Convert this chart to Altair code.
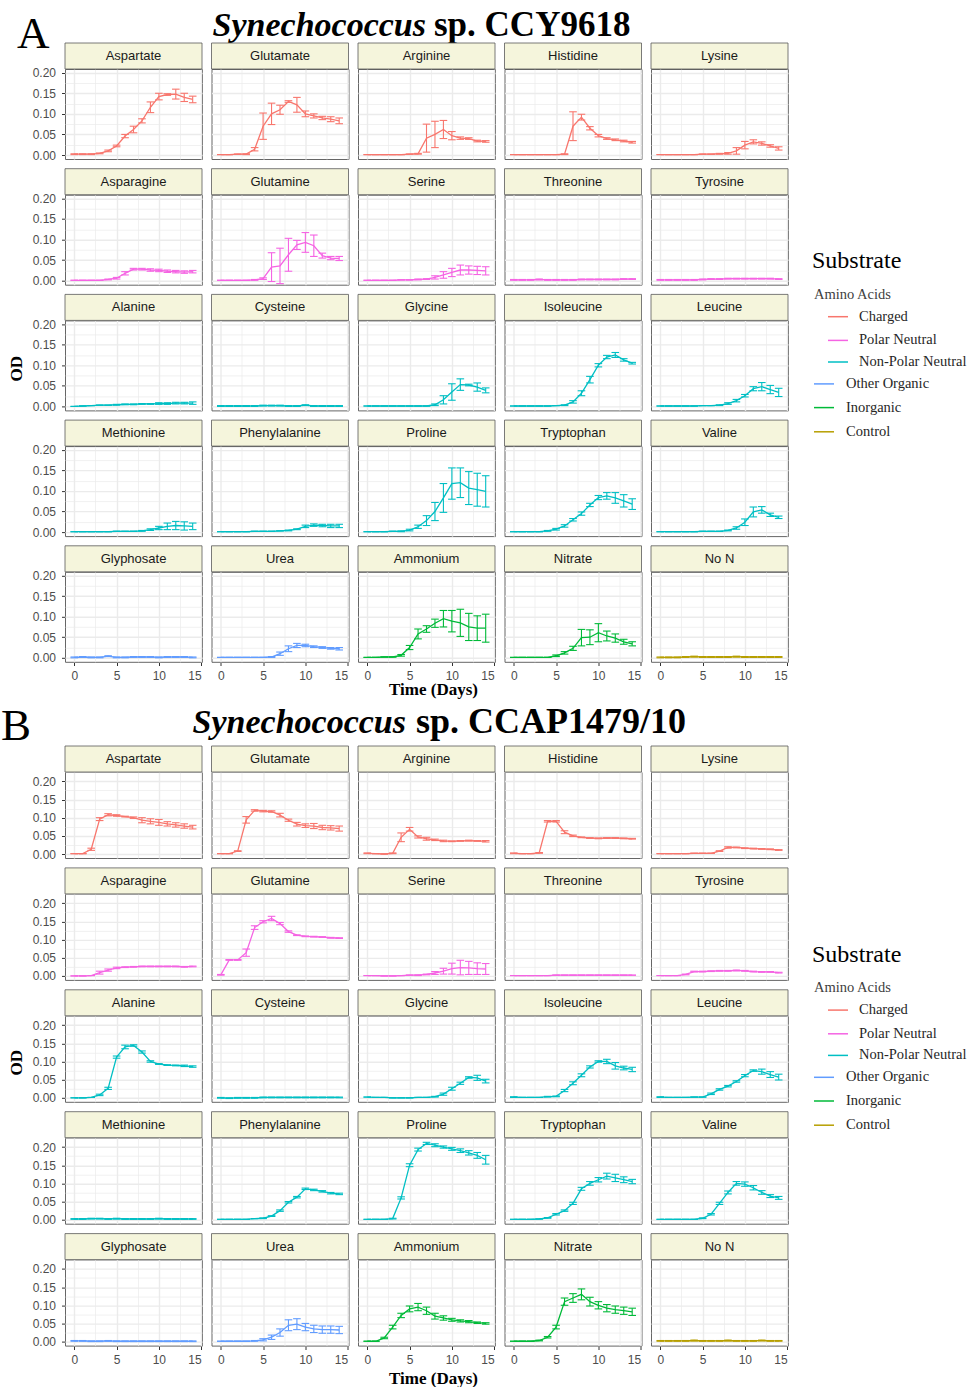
import altair as alt
import pandas as pd

DAYS = list(range(15))

SUBSTRATES = ["Aspartate", "Glutamate", "Arginine", "Histidine", "Lysine",
              "Asparagine", "Glutamine", "Serine", "Threonine", "Tyrosine",
              "Alanine", "Cysteine", "Glycine", "Isoleucine", "Leucine",
              "Methionine", "Phenylalanine", "Proline", "Tryptophan", "Valine",
              "Glyphosate", "Urea", "Ammonium", "Nitrate", "No N"]
GROUPS = (["Charged"] * 5 + ["Polar Neutral"] * 5 + ["Non-Polar Neutral"] * 10
          + ["Other Organic"] * 2 + ["Inorganic"] * 2 + ["Control"])
GROUP_NAMES = ["Charged", "Polar Neutral", "Non-Polar Neutral", "Other Organic", "Inorganic", "Control"]
GROUP_COLORS = ["#F8766D", "#F564E3", "#00BFC4", "#619CFF", "#00BA38", "#B79F00"]
GROUP_INDENT = [True, True, True, False, False, False]

# ---------------- Synechococcus sp. CCY9618 ----------------
A_MEAN = {
    "Aspartate":     [0.002, 0.002, 0.002, 0.004, 0.010, 0.022, 0.046, 0.062, 0.083, 0.116, 0.142, 0.147, 0.148, 0.140, 0.135],
    "Glutamate":     [0.001, 0.001, 0.002, 0.002, 0.014, 0.070, 0.100, 0.110, 0.130, 0.122, 0.100, 0.095, 0.090, 0.087, 0.083],
    "Arginine":      [0.001, 0.001, 0.001, 0.001, 0.001, 0.002, 0.003, 0.041, 0.050, 0.062, 0.047, 0.041, 0.040, 0.034, 0.033],
    "Histidine":     [0.001, 0.001, 0.001, 0.001, 0.001, 0.001, 0.002, 0.070, 0.092, 0.065, 0.047, 0.040, 0.037, 0.034, 0.031],
    "Lysine":        [0.001, 0.001, 0.001, 0.001, 0.001, 0.002, 0.002, 0.003, 0.004, 0.010, 0.024, 0.032, 0.028, 0.022, 0.016],
    "Asparagine":    [0.001, 0.001, 0.001, 0.001, 0.003, 0.006, 0.018, 0.028, 0.028, 0.026, 0.025, 0.023, 0.022, 0.021, 0.022],
    "Glutamine":     [0.001, 0.001, 0.001, 0.001, 0.002, 0.005, 0.033, 0.036, 0.063, 0.087, 0.093, 0.085, 0.061, 0.055, 0.054],
    "Serine":        [0.001, 0.001, 0.001, 0.001, 0.002, 0.002, 0.003, 0.004, 0.008, 0.014, 0.020, 0.026, 0.026, 0.025, 0.024],
    "Threonine":     [0.002, 0.002, 0.002, 0.003, 0.002, 0.002, 0.002, 0.002, 0.003, 0.003, 0.003, 0.003, 0.003, 0.004, 0.004],
    "Tyrosine":      [0.002, 0.002, 0.002, 0.002, 0.002, 0.003, 0.004, 0.004, 0.005, 0.005, 0.005, 0.005, 0.005, 0.005, 0.004],
    "Alanine":       [0.000, 0.001, 0.002, 0.003, 0.003, 0.004, 0.005, 0.005, 0.006, 0.006, 0.007, 0.007, 0.008, 0.008, 0.008],
    "Cysteine":      [0.001, 0.001, 0.001, 0.001, 0.001, 0.002, 0.002, 0.002, 0.001, 0.001, 0.003, 0.001, 0.001, 0.001, 0.001],
    "Glycine":       [0.001, 0.001, 0.001, 0.001, 0.001, 0.001, 0.001, 0.001, 0.004, 0.016, 0.035, 0.053, 0.052, 0.047, 0.039],
    "Isoleucine":    [0.001, 0.001, 0.001, 0.001, 0.001, 0.002, 0.003, 0.011, 0.032, 0.065, 0.100, 0.120, 0.125, 0.113, 0.105],
    "Leucine":       [0.001, 0.001, 0.001, 0.001, 0.001, 0.002, 0.002, 0.003, 0.007, 0.014, 0.026, 0.043, 0.048, 0.041, 0.034],
    "Methionine":    [0.001, 0.001, 0.001, 0.001, 0.001, 0.002, 0.002, 0.002, 0.003, 0.006, 0.010, 0.014, 0.016, 0.015, 0.014],
    "Phenylalanine": [0.001, 0.001, 0.001, 0.001, 0.002, 0.002, 0.002, 0.003, 0.004, 0.007, 0.014, 0.017, 0.016, 0.015, 0.015],
    "Proline":       [0.001, 0.001, 0.001, 0.002, 0.002, 0.005, 0.013, 0.028, 0.050, 0.083, 0.118, 0.120, 0.107, 0.103, 0.099],
    "Tryptophan":    [0.001, 0.001, 0.001, 0.001, 0.003, 0.007, 0.015, 0.030, 0.045, 0.066, 0.084, 0.088, 0.083, 0.076, 0.068],
    "Valine":        [0.001, 0.001, 0.001, 0.001, 0.001, 0.002, 0.002, 0.002, 0.004, 0.010, 0.024, 0.049, 0.054, 0.042, 0.036],
    "Glyphosate":    [0.001, 0.002, 0.001, 0.001, 0.004, 0.001, 0.001, 0.002, 0.002, 0.002, 0.001, 0.002, 0.002, 0.002, 0.001],
    "Urea":          [0.001, 0.001, 0.001, 0.001, 0.001, 0.001, 0.002, 0.010, 0.022, 0.030, 0.030, 0.027, 0.025, 0.023, 0.022],
    "Ammonium":      [0.001, 0.001, 0.002, 0.002, 0.006, 0.025, 0.058, 0.070, 0.084, 0.095, 0.089, 0.085, 0.075, 0.072, 0.072],
    "Nitrate":       [0.001, 0.001, 0.001, 0.001, 0.001, 0.005, 0.012, 0.023, 0.049, 0.050, 0.061, 0.053, 0.048, 0.039, 0.034],
    "No N":          [0.001, 0.001, 0.001, 0.002, 0.003, 0.002, 0.002, 0.002, 0.002, 0.003, 0.002, 0.002, 0.002, 0.002, 0.002],
}
A_ERR = {
    "Aspartate":     [0.001, 0.001, 0.001, 0.001, 0.002, 0.002, 0.004, 0.008, 0.005, 0.013, 0.008, 0.002, 0.012, 0.010, 0.008],
    "Glutamate":     [0.000, 0.000, 0.000, 0.001, 0.004, 0.032, 0.026, 0.011, 0.002, 0.018, 0.007, 0.005, 0.004, 0.006, 0.007],
    "Arginine":      [0.000, 0.000, 0.000, 0.000, 0.000, 0.000, 0.001, 0.034, 0.032, 0.022, 0.010, 0.003, 0.002, 0.002, 0.002],
    "Histidine":     [0.000, 0.000, 0.000, 0.000, 0.000, 0.000, 0.001, 0.035, 0.007, 0.004, 0.003, 0.002, 0.002, 0.002, 0.002],
    "Lysine":        [0.000, 0.000, 0.000, 0.000, 0.000, 0.000, 0.000, 0.001, 0.002, 0.008, 0.009, 0.005, 0.004, 0.003, 0.004],
    "Asparagine":    [0.000, 0.000, 0.000, 0.000, 0.001, 0.002, 0.004, 0.002, 0.002, 0.003, 0.003, 0.003, 0.003, 0.003, 0.003],
    "Glutamine":     [0.000, 0.000, 0.000, 0.000, 0.001, 0.002, 0.035, 0.043, 0.040, 0.011, 0.024, 0.026, 0.006, 0.004, 0.005],
    "Serine":        [0.000, 0.000, 0.000, 0.000, 0.000, 0.000, 0.001, 0.001, 0.004, 0.008, 0.010, 0.012, 0.010, 0.010, 0.010],
    "Threonine":     [0.001, 0.001, 0.001, 0.001, 0.001, 0.001, 0.001, 0.001, 0.001, 0.001, 0.001, 0.001, 0.001, 0.001, 0.001],
    "Tyrosine":      [0.001, 0.001, 0.001, 0.001, 0.001, 0.001, 0.001, 0.001, 0.001, 0.001, 0.001, 0.001, 0.001, 0.001, 0.001],
    "Alanine":       [0.000, 0.000, 0.000, 0.000, 0.000, 0.001, 0.001, 0.001, 0.001, 0.001, 0.002, 0.002, 0.002, 0.002, 0.003],
    "Cysteine":      [0.001, 0.001, 0.001, 0.001, 0.001, 0.001, 0.001, 0.001, 0.001, 0.001, 0.001, 0.001, 0.001, 0.001, 0.001],
    "Glycine":       [0.000, 0.000, 0.000, 0.000, 0.000, 0.000, 0.000, 0.000, 0.002, 0.010, 0.020, 0.014, 0.002, 0.010, 0.006],
    "Isoleucine":    [0.000, 0.000, 0.000, 0.000, 0.000, 0.000, 0.001, 0.003, 0.006, 0.008, 0.004, 0.004, 0.006, 0.003, 0.002],
    "Leucine":       [0.000, 0.000, 0.000, 0.000, 0.000, 0.000, 0.000, 0.001, 0.002, 0.003, 0.003, 0.005, 0.010, 0.010, 0.010],
    "Methionine":    [0.000, 0.000, 0.000, 0.000, 0.000, 0.000, 0.000, 0.000, 0.001, 0.002, 0.004, 0.008, 0.010, 0.010, 0.008],
    "Phenylalanine": [0.000, 0.000, 0.000, 0.000, 0.000, 0.000, 0.000, 0.000, 0.001, 0.001, 0.003, 0.003, 0.003, 0.004, 0.004],
    "Proline":       [0.000, 0.000, 0.000, 0.000, 0.001, 0.002, 0.004, 0.012, 0.022, 0.035, 0.038, 0.036, 0.040, 0.040, 0.038],
    "Tryptophan":    [0.000, 0.000, 0.000, 0.000, 0.001, 0.002, 0.003, 0.003, 0.004, 0.004, 0.005, 0.008, 0.013, 0.015, 0.013],
    "Valine":        [0.000, 0.000, 0.000, 0.000, 0.000, 0.000, 0.000, 0.000, 0.001, 0.003, 0.008, 0.012, 0.008, 0.004, 0.003],
    "Glyphosate":    [0.001, 0.001, 0.001, 0.001, 0.001, 0.001, 0.001, 0.001, 0.001, 0.001, 0.001, 0.001, 0.001, 0.001, 0.001],
    "Urea":          [0.000, 0.000, 0.000, 0.000, 0.000, 0.000, 0.001, 0.004, 0.007, 0.005, 0.003, 0.002, 0.002, 0.002, 0.003],
    "Ammonium":      [0.000, 0.000, 0.000, 0.000, 0.002, 0.005, 0.012, 0.008, 0.010, 0.020, 0.026, 0.033, 0.033, 0.030, 0.034],
    "Nitrate":       [0.000, 0.000, 0.000, 0.000, 0.000, 0.002, 0.003, 0.005, 0.020, 0.018, 0.022, 0.012, 0.010, 0.006, 0.005],
    "No N":          [0.001, 0.001, 0.001, 0.001, 0.001, 0.001, 0.001, 0.001, 0.001, 0.001, 0.001, 0.001, 0.001, 0.001, 0.001],
}

# ---------------- Synechococcus sp. CCAP1479/10 ----------------
B_MEAN = {
    "Aspartate":     [0.001, 0.001, 0.013, 0.096, 0.108, 0.106, 0.103, 0.100, 0.093, 0.090, 0.087, 0.083, 0.080, 0.077, 0.074],
    "Glutamate":     [0.001, 0.001, 0.008, 0.094, 0.120, 0.118, 0.117, 0.107, 0.093, 0.082, 0.078, 0.077, 0.073, 0.072, 0.070],
    "Arginine":      [0.002, 0.001, 0.000, 0.002, 0.046, 0.068, 0.047, 0.042, 0.039, 0.036, 0.035, 0.036, 0.037, 0.036, 0.035],
    "Histidine":     [0.002, 0.001, 0.001, 0.003, 0.090, 0.090, 0.060, 0.050, 0.046, 0.044, 0.043, 0.044, 0.044, 0.043, 0.042],
    "Lysine":        [0.001, 0.001, 0.001, 0.001, 0.002, 0.002, 0.002, 0.008, 0.018, 0.018, 0.016, 0.015, 0.014, 0.013, 0.011],
    "Asparagine":    [0.000, 0.000, 0.001, 0.009, 0.016, 0.022, 0.024, 0.025, 0.026, 0.026, 0.026, 0.026, 0.026, 0.025, 0.026],
    "Glutamine":     [0.003, 0.044, 0.044, 0.064, 0.133, 0.149, 0.158, 0.144, 0.122, 0.112, 0.109, 0.108, 0.107, 0.105, 0.104],
    "Serine":        [0.001, 0.001, 0.000, 0.000, 0.001, 0.002, 0.002, 0.004, 0.008, 0.013, 0.020, 0.023, 0.022, 0.020, 0.019],
    "Threonine":     [0.001, 0.001, 0.001, 0.001, 0.001, 0.002, 0.002, 0.002, 0.002, 0.002, 0.002, 0.002, 0.002, 0.002, 0.002],
    "Tyrosine":      [0.001, 0.001, 0.001, 0.004, 0.012, 0.012, 0.013, 0.014, 0.014, 0.015, 0.014, 0.012, 0.011, 0.011, 0.009],
    "Alanine":       [0.000, 0.000, 0.001, 0.008, 0.026, 0.112, 0.140, 0.144, 0.126, 0.100, 0.093, 0.090, 0.089, 0.088, 0.086],
    "Cysteine":      [0.000, -0.001, 0.000, 0.000, 0.000, 0.001, 0.001, 0.001, 0.001, 0.001, 0.001, 0.001, 0.001, 0.001, 0.001],
    "Glycine":       [0.002, 0.001, 0.001, 0.000, 0.000, 0.000, 0.001, 0.001, 0.003, 0.010, 0.025, 0.040, 0.056, 0.055, 0.046],
    "Isoleucine":    [0.002, 0.001, 0.001, 0.001, 0.003, 0.004, 0.020, 0.040, 0.062, 0.085, 0.100, 0.100, 0.088, 0.082, 0.078],
    "Leucine":       [0.002, 0.001, 0.001, 0.001, 0.002, 0.002, 0.011, 0.023, 0.032, 0.045, 0.061, 0.075, 0.072, 0.064, 0.057],
    "Methionine":    [0.002, 0.002, 0.003, 0.003, 0.002, 0.003, 0.002, 0.002, 0.002, 0.002, 0.003, 0.002, 0.002, 0.002, 0.002],
    "Phenylalanine": [0.001, 0.001, 0.001, 0.001, 0.003, 0.004, 0.010, 0.025, 0.048, 0.062, 0.085, 0.082, 0.078, 0.073, 0.071],
    "Proline":       [0.001, 0.001, 0.001, 0.003, 0.060, 0.150, 0.193, 0.210, 0.205, 0.200, 0.195, 0.190, 0.184, 0.177, 0.165],
    "Tryptophan":    [0.001, 0.001, 0.001, 0.002, 0.005, 0.015, 0.025, 0.045, 0.085, 0.100, 0.110, 0.120, 0.115, 0.110, 0.105],
    "Valine":        [0.001, 0.001, 0.001, 0.001, 0.001, 0.004, 0.015, 0.045, 0.075, 0.100, 0.098, 0.088, 0.075, 0.065, 0.060],
    "Glyphosate":    [0.002, 0.002, 0.001, 0.001, 0.002, 0.001, 0.001, 0.001, 0.001, 0.001, 0.001, 0.001, 0.001, 0.001, 0.001],
    "Urea":          [0.001, 0.001, 0.001, 0.001, 0.002, 0.005, 0.012, 0.025, 0.045, 0.048, 0.040, 0.035, 0.033, 0.033, 0.032],
    "Ammonium":      [0.001, 0.001, 0.010, 0.040, 0.072, 0.090, 0.095, 0.085, 0.070, 0.065, 0.060, 0.057, 0.055, 0.052, 0.050],
    "Nitrate":       [0.001, 0.001, 0.001, 0.003, 0.012, 0.040, 0.110, 0.120, 0.130, 0.110, 0.100, 0.092, 0.088, 0.085, 0.082],
    "No N":          [0.002, 0.002, 0.002, 0.002, 0.003, 0.002, 0.002, 0.002, 0.003, 0.002, 0.002, 0.002, 0.003, 0.002, 0.002],
}
B_ERR = {
    "Aspartate":     [0.000, 0.000, 0.003, 0.004, 0.003, 0.002, 0.001, 0.002, 0.007, 0.007, 0.008, 0.006, 0.006, 0.006, 0.005],
    "Glutamate":     [0.000, 0.000, 0.001, 0.009, 0.002, 0.002, 0.002, 0.005, 0.003, 0.005, 0.005, 0.007, 0.006, 0.006, 0.007],
    "Arginine":      [0.001, 0.000, 0.000, 0.001, 0.012, 0.005, 0.003, 0.004, 0.002, 0.002, 0.001, 0.001, 0.001, 0.001, 0.002],
    "Histidine":     [0.001, 0.000, 0.000, 0.001, 0.002, 0.002, 0.004, 0.002, 0.001, 0.001, 0.001, 0.001, 0.001, 0.001, 0.001],
    "Lysine":        [0.000, 0.000, 0.000, 0.000, 0.000, 0.000, 0.000, 0.001, 0.002, 0.001, 0.001, 0.001, 0.001, 0.001, 0.001],
    "Asparagine":    [0.000, 0.000, 0.000, 0.004, 0.003, 0.002, 0.001, 0.001, 0.001, 0.001, 0.001, 0.001, 0.001, 0.001, 0.001],
    "Glutamine":     [0.001, 0.001, 0.001, 0.010, 0.005, 0.003, 0.006, 0.003, 0.002, 0.001, 0.001, 0.001, 0.001, 0.001, 0.001],
    "Serine":        [0.000, 0.000, 0.000, 0.000, 0.000, 0.000, 0.001, 0.001, 0.004, 0.008, 0.015, 0.020, 0.018, 0.016, 0.015],
    "Threonine":     [0.000, 0.000, 0.000, 0.000, 0.000, 0.000, 0.000, 0.000, 0.000, 0.000, 0.000, 0.000, 0.000, 0.000, 0.000],
    "Tyrosine":      [0.000, 0.000, 0.000, 0.001, 0.001, 0.001, 0.001, 0.001, 0.001, 0.001, 0.001, 0.001, 0.001, 0.001, 0.001],
    "Alanine":       [0.000, 0.000, 0.000, 0.002, 0.003, 0.003, 0.005, 0.002, 0.003, 0.002, 0.001, 0.001, 0.001, 0.002, 0.002],
    "Cysteine":      [0.001, 0.001, 0.001, 0.001, 0.001, 0.001, 0.001, 0.001, 0.001, 0.001, 0.001, 0.001, 0.001, 0.001, 0.001],
    "Glycine":       [0.000, 0.000, 0.000, 0.000, 0.000, 0.000, 0.000, 0.000, 0.001, 0.003, 0.004, 0.003, 0.002, 0.007, 0.005],
    "Isoleucine":    [0.001, 0.000, 0.000, 0.000, 0.001, 0.001, 0.003, 0.004, 0.004, 0.003, 0.002, 0.006, 0.009, 0.005, 0.006],
    "Leucine":       [0.001, 0.000, 0.000, 0.000, 0.000, 0.000, 0.002, 0.002, 0.002, 0.002, 0.003, 0.002, 0.007, 0.008, 0.008],
    "Methionine":    [0.001, 0.001, 0.001, 0.001, 0.001, 0.001, 0.001, 0.001, 0.001, 0.001, 0.001, 0.001, 0.001, 0.001, 0.001],
    "Phenylalanine": [0.000, 0.000, 0.000, 0.000, 0.000, 0.001, 0.001, 0.002, 0.002, 0.002, 0.002, 0.002, 0.002, 0.002, 0.002],
    "Proline":       [0.000, 0.000, 0.000, 0.001, 0.003, 0.004, 0.004, 0.003, 0.004, 0.003, 0.004, 0.005, 0.006, 0.008, 0.012],
    "Tryptophan":    [0.000, 0.000, 0.000, 0.000, 0.001, 0.002, 0.002, 0.003, 0.004, 0.005, 0.006, 0.008, 0.010, 0.008, 0.006],
    "Valine":        [0.000, 0.000, 0.000, 0.000, 0.000, 0.001, 0.002, 0.003, 0.004, 0.005, 0.006, 0.006, 0.005, 0.004, 0.004],
    "Glyphosate":    [0.001, 0.001, 0.001, 0.001, 0.001, 0.001, 0.001, 0.001, 0.001, 0.001, 0.001, 0.001, 0.001, 0.001, 0.001],
    "Urea":          [0.000, 0.000, 0.000, 0.000, 0.001, 0.003, 0.006, 0.010, 0.015, 0.015, 0.010, 0.010, 0.010, 0.010, 0.010],
    "Ammonium":      [0.000, 0.000, 0.002, 0.005, 0.006, 0.008, 0.010, 0.010, 0.008, 0.006, 0.004, 0.003, 0.003, 0.002, 0.002],
    "Nitrate":       [0.000, 0.000, 0.000, 0.001, 0.002, 0.005, 0.010, 0.012, 0.015, 0.012, 0.010, 0.010, 0.010, 0.010, 0.010],
    "No N":          [0.001, 0.001, 0.001, 0.001, 0.001, 0.001, 0.001, 0.001, 0.001, 0.001, 0.001, 0.001, 0.001, 0.001, 0.001],
}

TITLE_ITALIC = "Synechococcus"
TITLE_A = "sp. CCY9618"
TITLE_B = "sp. CCAP1479/10"
X_TITLE = "Time (Days)"
Y_TITLE = "OD"
LEGEND_TITLE = "Substrate"
LEGEND_SUBTITLE = "Amino Acids"
X_TICKS = [0, 2.5, 5, 7.5, 10, 12.5, 15]
Y_TICKS_A = [0, 0.025, 0.05, 0.075, 0.1, 0.125, 0.15, 0.175, 0.2]
Y_TICKS_B = Y_TICKS_A + [0.225]

W = 137
COL_SP = 9.5
SANS = "Liberation Sans"
SERIF = "Liberation Serif"
LEGEND_DY = [-104, -70.5, -48.7, -25, -3.4, 18.5, 42.2, 66.4]


def make_df(mean, err):
    rows = []
    for s, g in zip(SUBSTRATES, GROUPS):
        for d, m, e in zip(DAYS, mean[s], err[s]):
            rows.append({"panel": s, "group": g, "day": d, "od": m,
                         "lo": m - e, "hi": m + e})
    return pd.DataFrame(rows)


def at(panel):
    return f"datum.panel === '{panel}' && datum.day === 0"


def txt(panel, text, x, y, **mk):
    return (alt.Chart().transform_filter(at(panel))
            .mark_text(**mk)
            .encode(x=alt.value(x), y=alt.value(y), text=alt.value(text)))


def block(mean, err, H, row_sp, ydom, yticks, title_b, junc, title_y, title_fs, letter, letter_x,
          letter_y, od_y, time_y):
    df = make_df(mean, err)
    xmaj = "datum.value % 5 === 0"
    ymaj = "round(datum.value * 200) % 10 === 0"
    xaxis = alt.Axis(values=X_TICKS, labelExpr=f"{xmaj} ? datum.label : ''", format="d",
                     grid=True, gridColor="#EBEBEB",
                     gridWidth={"condition": {"test": xmaj, "value": 1.4}, "value": 0.7},
                     tickOpacity={"condition": {"test": xmaj, "value": 1}, "value": 0},
                     tickColor="#333333", tickSize=3.5, tickWidth=1, domain=False,
                     labelColor="#4D4D4D", labelFont=SANS, labelFontSize=12, labelPadding=4.5,
                     title=None)
    yaxis = alt.Axis(values=yticks, labelExpr=f"{ymaj} ? format(datum.value, '.2f') : ''",
                     grid=True, gridColor="#EBEBEB",
                     gridWidth={"condition": {"test": ymaj, "value": 1.4}, "value": 0.7},
                     tickOpacity={"condition": {"test": ymaj, "value": 1}, "value": 0},
                     tickColor="#333333", tickSize=3.5, tickWidth=1, domain=False,
                     labelColor="#4D4D4D", labelFont=SANS, labelFontSize=12, labelPadding=6,
                     title=None)
    xs = alt.Scale(domain=[-1.1, 15.1], nice=False, zero=False)
    ys = alt.Scale(domain=ydom, nice=False, zero=False)

    def X(f):
        return alt.X(f, type="quantitative", scale=xs, axis=xaxis, title=None)

    def Y(f):
        return alt.Y(f, type="quantitative", scale=ys, axis=yaxis, title=None)

    color = alt.Color("group:N", scale=alt.Scale(domain=GROUP_NAMES, range=GROUP_COLORS), legend=None)

    strip = (alt.Chart().transform_filter("datum.day === 0")
             .mark_rect(fill="#F5F5DC", stroke="#595959", strokeWidth=0.8)
             .encode(x=alt.value(0), x2=alt.value(W), y=alt.value(-26), y2=alt.value(0)))
    strip_txt = (alt.Chart().transform_filter("datum.day === 0")
                 .mark_text(font=SANS, fontSize=13, color="#1A1A1A", baseline="middle")
                 .encode(x=alt.value(W / 2), y=alt.value(-13), text="panel:N"))
    err_v = alt.Chart().mark_rule(strokeWidth=1.1).encode(x=X("day"), y=Y("lo"), y2="hi", color=color)
    caps = alt.Chart().transform_calculate(xl="datum.day - 0.45", xr="datum.day + 0.45")
    cap_lo = caps.mark_rule(strokeWidth=1.1).encode(x=X("xl"), x2="xr", y=Y("lo"), color=color)
    cap_hi = caps.mark_rule(strokeWidth=1.1).encode(x=X("xl"), x2="xr", y=Y("hi"), color=color)
    line = alt.Chart().mark_line(strokeWidth=1.3).encode(x=X("day"), y=Y("od"), color=color)

    layers = [strip, strip_txt, err_v, cap_lo, cap_hi, line]

    # titles
    layers.append(txt("Aspartate", TITLE_ITALIC, junc[0], title_y, font=SERIF, fontSize=34,
                      fontStyle="italic", fontWeight="bold", align="right", baseline="alphabetic",
                      color="black"))
    layers.append(txt("Aspartate", title_b, junc[1], title_y, font=SERIF, fontSize=title_fs,
                      fontWeight="bold", align="left", baseline="alphabetic", color="black"))
    layers.append(txt("Aspartate", letter, letter_x, letter_y, font=SERIF, fontSize=45,
                      align="left", baseline="alphabetic", color="black"))
    layers.append(txt("Alanine", Y_TITLE, -48.5, od_y, font=SERIF, fontSize=17, fontWeight="bold",
                      angle=270, align="center", baseline="middle", color="black"))
    layers.append(txt("Ammonium", X_TITLE, 75.5, time_y, font=SERIF, fontSize=17, fontWeight="bold",
                      align="center", baseline="alphabetic", color="black"))

    # legend (drawn beside the top-right panel, "Lysine")
    mid = (5 * H + 4 * row_sp) / 2
    ly = [mid + d for d in LEGEND_DY]
    layers.append(txt("Lysine", LEGEND_TITLE, 161, ly[0], font=SERIF, fontSize=24,
                      baseline="middle", align="left", color="black"))
    layers.append(txt("Lysine", LEGEND_SUBTITLE, 163, ly[1], font=SERIF, fontSize=14.5,
                      baseline="middle", align="left", color="#404040"))
    for k, (name, col, ind) in enumerate(zip(GROUP_NAMES, GROUP_COLORS, GROUP_INDENT)):
        sx = 177 if ind else 163
        tx = 208 if ind else 195
        yk = ly[2 + k]
        layers.append(alt.Chart().transform_filter(at("Lysine"))
                      .mark_rule(strokeWidth=1.5, color=col)
                      .encode(x=alt.value(sx), x2=alt.value(sx + 20), y=alt.value(yk)))
        layers.append(txt("Lysine", name, tx, yk, font=SERIF, fontSize=14.5,
                          baseline="middle", align="left", color="#262626"))

    hdr = alt.Header(labels=False, labelFontSize=0, labelColor="transparent", labelExpr="''",
                     labelPadding=0, title=None, titlePadding=0)
    return (alt.layer(*layers, data=df)
            .properties(width=W, height=H)
            .facet(facet=alt.Facet("panel:N", sort=SUBSTRATES, header=hdr),
                   columns=5, spacing={"row": row_sp, "column": COL_SP}, bounds="flush"))


chart_a = block(A_MEAN, A_ERR, 90, 35.7, [-0.0097, 0.209], Y_TICKS_A, TITLE_A,
                (361, 369), -33, 35, "A", -48, -21, 48.3, 123.2)
chart_b = block(B_MEAN, B_ERR, 86, 35.9, [-0.011, 0.2257], Y_TICKS_B, TITLE_B,
                (341, 351), -39, 36, "B", -64, -32, 47, 124.4)

chart = (alt.vconcat(chart_a, chart_b, spacing=4)
         .properties(padding={"left": 0, "top": 7, "right": 0, "bottom": 0}, background="white")
         .configure_view(stroke="#666666", strokeWidth=1)
         .configure_headerFacet(labels=False, labelFontSize=0, labelPadding=0)
         .configure_header(labels=False, labelFontSize=0, labelPadding=0))

chart.save("out.html", embed_options={"renderer": "svg", "actions": False})
